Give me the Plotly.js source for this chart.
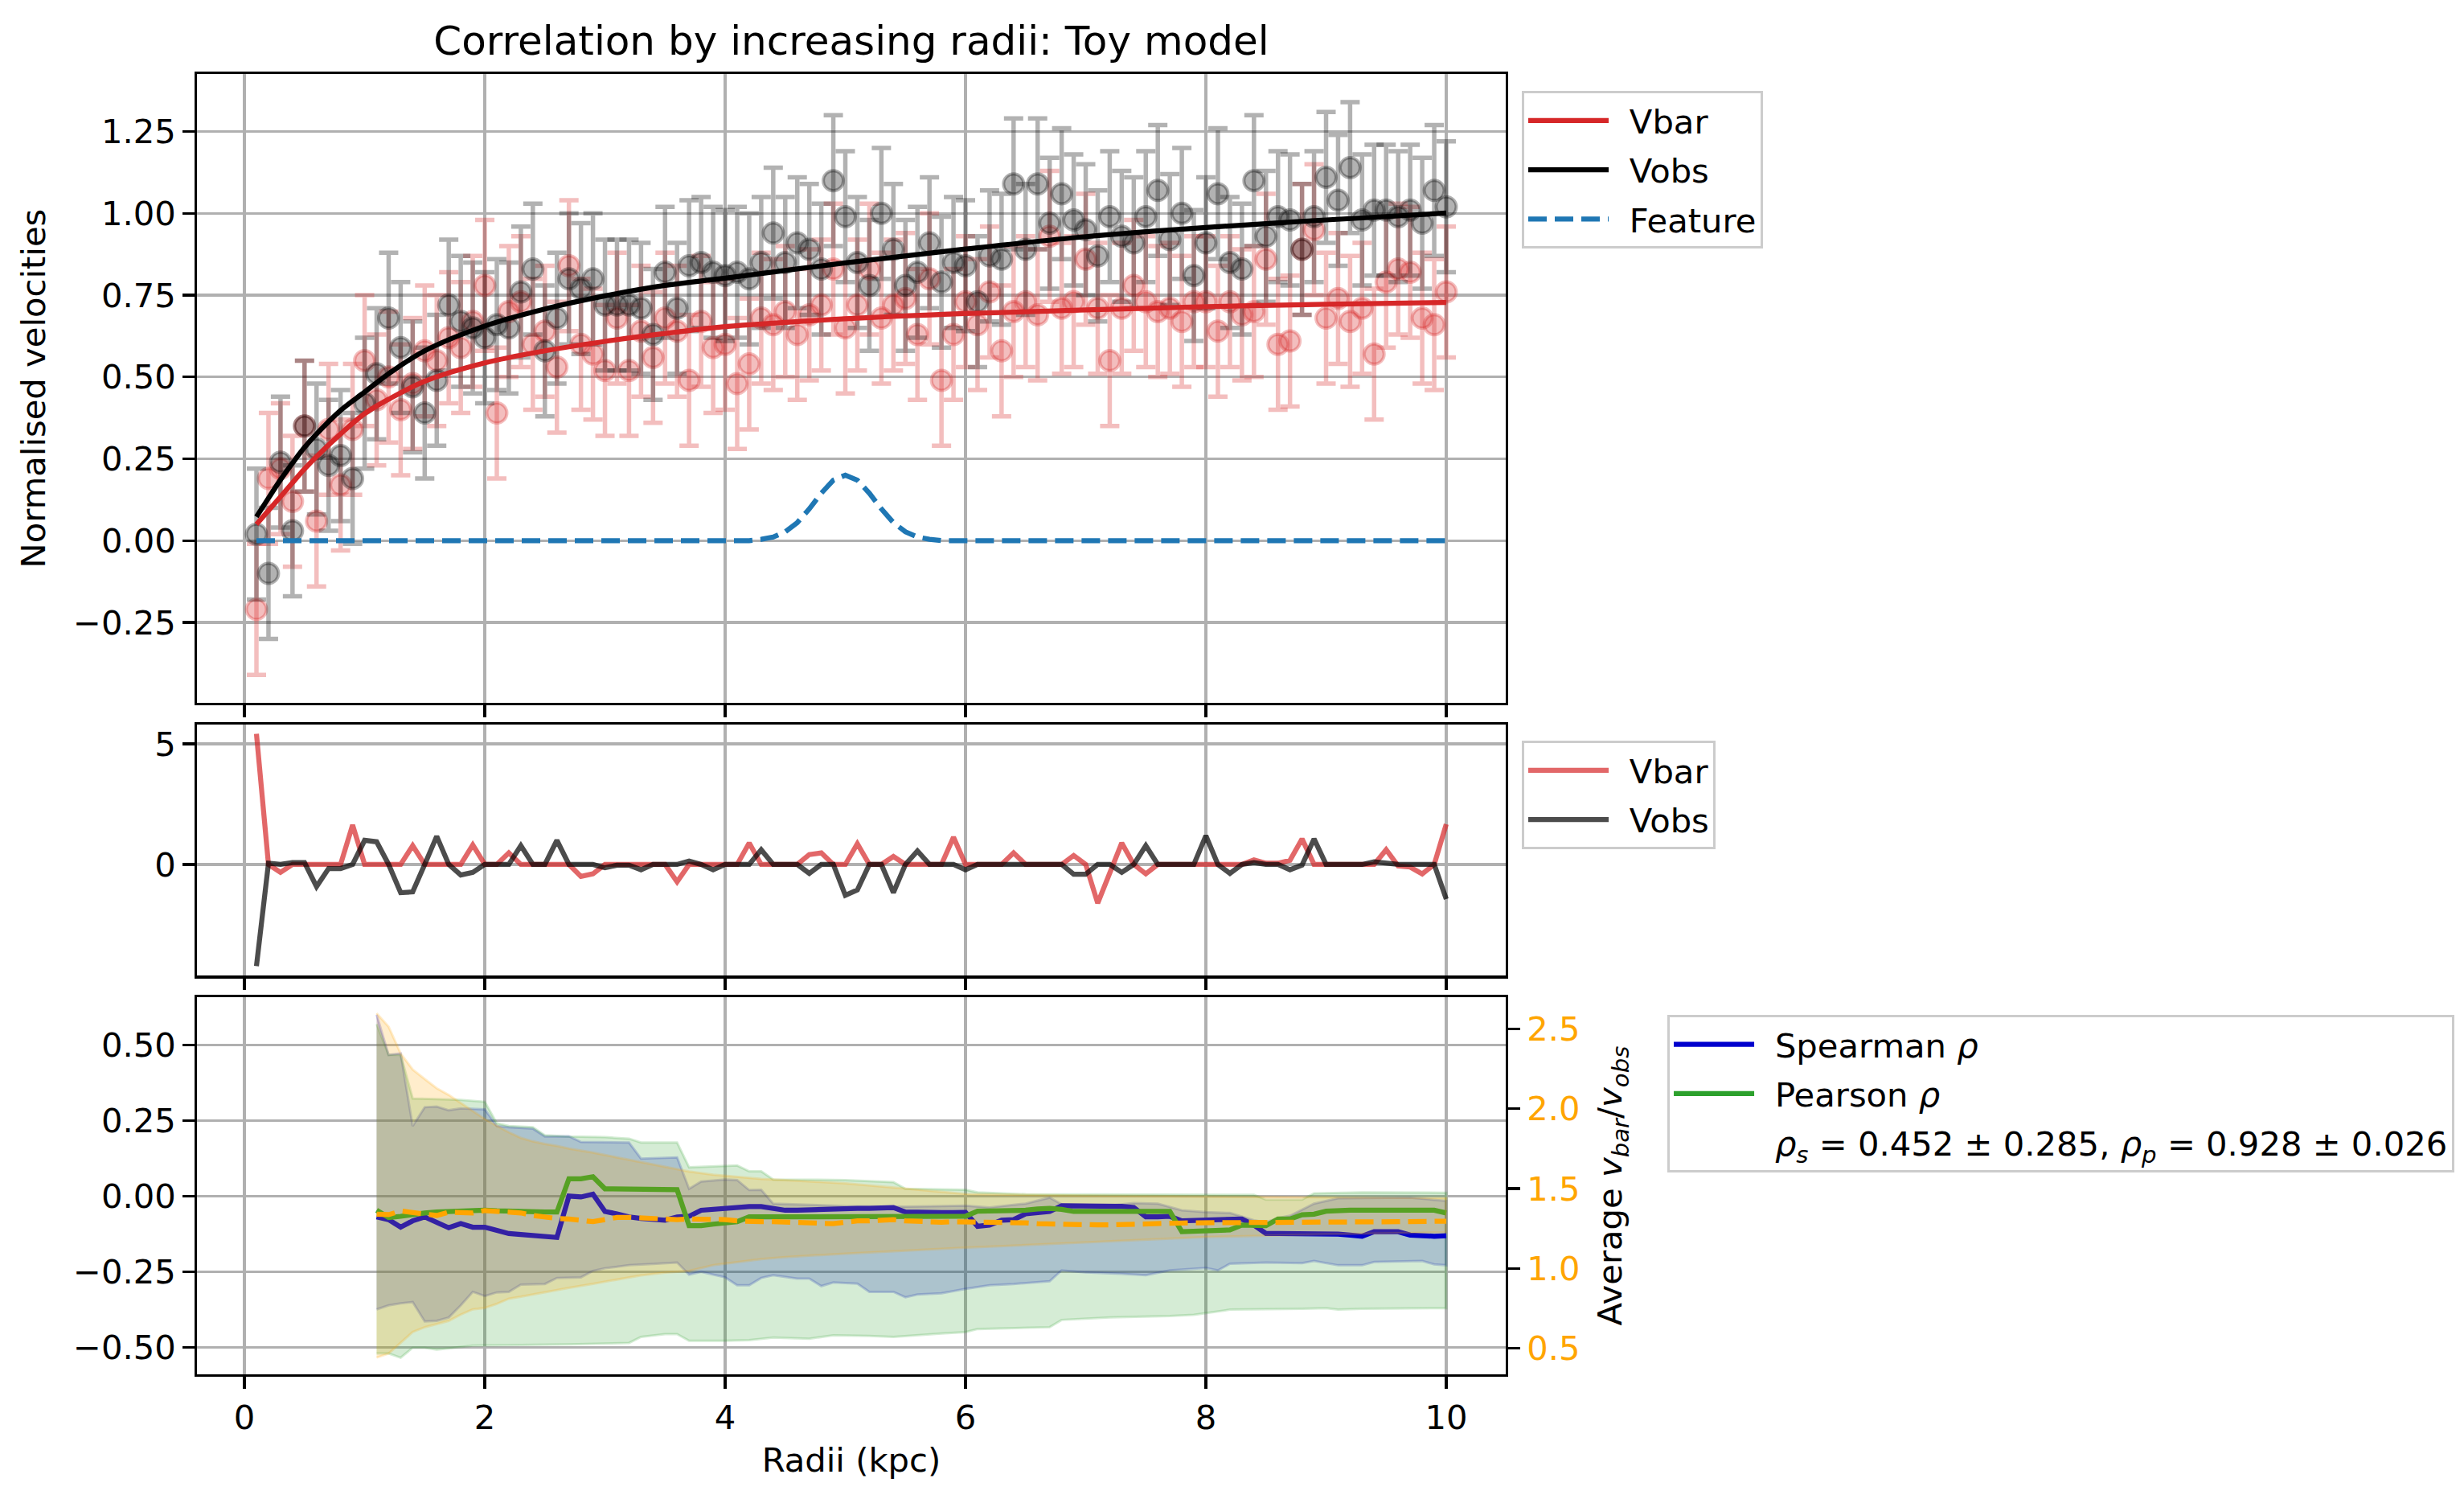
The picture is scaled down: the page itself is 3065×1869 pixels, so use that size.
<!DOCTYPE html>
<html>
<head>
<meta charset="utf-8">
<script src="https://cdn.plot.ly/plotly-3.0.1.min.js"></script>
<style>html, body {margin: 0; padding: 0; background: #fff;}</style>
</head>
<body>
<div id="chart" style="width:3065px;height:1869px"></div>
<script>
// ---- data ----
const radii = [
    0.1, 0.2, 0.3, 0.4, 0.5, 0.6, 0.7, 0.8, 0.9, 1.0,
    1.1, 1.2, 1.3, 1.4, 1.5, 1.6, 1.7, 1.8, 1.9, 2.0,
    2.1, 2.2, 2.3, 2.4, 2.5, 2.6, 2.7, 2.8, 2.9, 3.0,
    3.1, 3.2, 3.3, 3.4, 3.5, 3.6, 3.7, 3.8, 3.9, 4.0,
    4.1, 4.2, 4.3, 4.4, 4.5, 4.6, 4.7, 4.8, 4.9, 5.0,
    5.1, 5.2, 5.3, 5.4, 5.5, 5.6, 5.7, 5.8, 5.9, 6.0,
    6.1, 6.2, 6.3, 6.4, 6.5, 6.6, 6.7, 6.8, 6.9, 7.0,
    7.1, 7.2, 7.3, 7.4, 7.5, 7.6, 7.7, 7.8, 7.9, 8.0,
    8.1, 8.2, 8.3, 8.4, 8.5, 8.6, 8.7, 8.8, 8.9, 9.0,
    9.1, 9.2, 9.3, 9.4, 9.5, 9.6, 9.7, 9.8, 9.9, 10.0];

const vbar_points = [
    -0.21, 0.19, 0.22, 0.12, 0.35, 0.06, 0.34, 0.17, 0.34, 0.55,
    0.43, 0.50, 0.40, 0.48, 0.58, 0.55, 0.62, 0.59, 0.67, 0.78,
    0.39, 0.70, 0.73, 0.60, 0.64, 0.53, 0.84, 0.60, 0.57, 0.52,
    0.68, 0.52, 0.64, 0.56, 0.68, 0.64, 0.49, 0.67, 0.59, 0.60,
    0.48, 0.54, 0.68, 0.66, 0.70, 0.63, 0.69, 0.72, 0.83, 0.65,
    0.72, 0.83, 0.68, 0.72, 0.74, 0.63, 0.80, 0.49, 0.63, 0.73,
    0.66, 0.76, 0.58, 0.70, 0.73, 0.69, 0.93, 0.71, 0.73, 0.86,
    0.71, 0.55, 0.71, 0.78, 0.73, 0.70, 0.71, 0.67, 0.73, 0.73,
    0.64, 0.73, 0.69, 0.70, 0.86, 0.60, 0.61, 0.89, 0.95, 0.68,
    0.74, 0.67, 0.71, 0.57, 0.79, 0.83, 0.82, 0.68, 0.66, 0.76];

const vobs_points = [
    0.02, -0.10, 0.24, 0.03, 0.35, 0.28, 0.23, 0.26, 0.19, 0.42,
    0.51, 0.68, 0.59, 0.47, 0.39, 0.49, 0.72, 0.67, 0.65, 0.62,
    0.66, 0.65, 0.76, 0.83, 0.58, 0.68, 0.80, 0.77, 0.80, 0.72,
    0.72, 0.72, 0.71, 0.63, 0.82, 0.71, 0.84, 0.85, 0.82, 0.81,
    0.82, 0.80, 0.85, 0.94, 0.85, 0.91, 0.89, 0.83, 1.10, 0.99,
    0.85, 0.78, 1.00, 0.89, 0.78, 0.82, 0.91, 0.79, 0.85, 0.84,
    0.73, 0.87, 0.86, 1.09, 0.89, 1.09, 0.97, 1.06, 0.98, 0.95,
    0.87, 0.99, 0.93, 0.91, 0.99, 1.07, 0.92, 1.00, 0.81, 0.91,
    1.06, 0.85, 0.83, 1.10, 0.93, 0.99, 0.98, 0.89, 0.99, 1.11,
    1.04, 1.14, 0.98, 1.01, 1.01, 0.99, 1.01, 0.97, 1.07, 1.02];

const velocity_err = 0.2;

// model curves, sampled where they were read
const curve_radii = [0.1, 0.2, 0.3, 0.4, 0.5, 0.6, 0.8, 1.0, 1.2, 1.5, 2.0, 2.5, 3.0, 3.5, 4.0, 5.0, 6.0, 7.0, 8.0, 9.0, 10.0];
const vbar_curve = [0.05, 0.092, 0.134, 0.177, 0.219, 0.257, 0.326, 0.388, 0.432, 0.487, 0.543, 0.58, 0.609, 0.633, 0.654, 0.678, 0.694, 0.705, 0.715, 0.722, 0.728];
const vobs_curve = [0.073, 0.13, 0.186, 0.237, 0.285, 0.326, 0.398, 0.454, 0.51, 0.58, 0.656, 0.708, 0.748, 0.78, 0.802, 0.849, 0.891, 0.929, 0.957, 0.98, 1.001];

const feature_radii = [0.1, 4.2, 4.3, 4.4, 4.5, 4.6, 4.7, 4.8, 4.9, 5.0, 5.1, 5.2, 5.3, 5.4, 5.5, 5.6, 5.7, 5.8, 10.0];
const feature = [0, 0, 0.004, 0.011, 0.027, 0.055, 0.097, 0.145, 0.185, 0.2, 0.185, 0.145, 0.097, 0.055, 0.027, 0.011, 0.004, 0, 0];

// middle panel
const res_vbar = [
    5.42, 0, -0.33, 0, 0, 0, 0, 0, 1.64, 0,
    0, 0, 0, 0.78, 0, 0, 0, 0, 0.81, 0,
    0, 0.48, 0, 0, 0, 0, 0, -0.50, -0.39, 0,
    0, 0, 0, 0, 0, -0.72, 0, 0, 0, 0,
    0, 0.89, 0, 0, 0, 0, 0.41, 0.48, 0, 0,
    0.86, 0, 0, 0.33, 0, 0, 0, 0, 1.13, 0,
    0, 0, 0, 0.48, 0, 0, 0, 0, 0.37, 0,
    -1.61, -0.36, 0.89, 0, -0.39, 0, 0, 0, 0, 0,
    0, 0, 0, 0.19, 0.05, 0.05, 0.17, 1.06, 0, 0,
    0, 0, 0, 0, 0.61, -0.06, -0.11, -0.39, 0, 1.67];

const res_vobs = [
    -4.22, 0.05, 0, 0.08, 0.08, -0.92, -0.17, -0.17, 0, 1.00,
    0.94, 0, -1.17, -1.14, 0, 1.17, 0, -0.44, -0.33, 0,
    0, 0, 0.78, 0, 0, 1.00, 0, 0, 0, -0.14,
    -0.03, -0.03, -0.22, 0, 0, 0, 0.14, 0, -0.22, 0,
    0, 0, 0.61, 0, 0, 0, -0.37, 0, 0, -1.28,
    -1.06, 0, 0, -1.17, 0, 0.56, 0, 0, 0, -0.22,
    0, 0, 0, 0, 0, 0, 0, 0, -0.41, -0.41,
    0, 0, -0.33, 0, 0.78, 0, 0, 0, 0, 1.19,
    0, -0.37, 0, 0.08, 0, 0, -0.22, -0.03, 1.06, 0,
    0, 0, 0, 0.11, 0.03, 0, 0, 0, 0, -1.44];

// bottom panel, from r = 1.1 kpc onwards
const corr_radii = radii.slice(10);

const spearman = [
    -0.069, -0.078, -0.103, -0.082, -0.069, -0.087, -0.105, -0.091, -0.103, -0.103,
    -0.112, -0.124, -0.127, -0.129, -0.133, -0.137, 0.000, -0.003, 0.006, -0.051,
    -0.059, -0.069, -0.074, -0.076, -0.080, -0.069, -0.067, -0.047, -0.043, -0.041,
    -0.038, -0.035, -0.035, -0.041, -0.047, -0.047, -0.045, -0.044, -0.044, -0.043,
    -0.041, -0.041, -0.040, -0.038, -0.053, -0.055, -0.055, -0.055, -0.055, -0.054,
    -0.100, -0.096, -0.080, -0.078, -0.059, -0.053, -0.051, -0.032, -0.032, -0.032,
    -0.034, -0.034, -0.034, -0.038, -0.069, -0.069, -0.067, -0.082, -0.080, -0.078,
    -0.076, -0.076, -0.076, -0.096, -0.124, -0.124, -0.124, -0.124, -0.124, -0.124,
    -0.126, -0.129, -0.133, -0.118, -0.118, -0.118, -0.129, -0.133, -0.133, -0.131];

const pearson = [
    -0.047, -0.071, -0.067, -0.060, -0.056, -0.053, -0.051, -0.050, -0.048, -0.047,
    -0.049, -0.051, -0.052, -0.053, -0.053, -0.053, 0.057, 0.057, 0.064, 0.024,
    0.024, 0.020, 0.020, 0.020, 0.020, 0.021, -0.098, -0.098, -0.093, -0.087,
    -0.085, -0.069, -0.069, -0.069, -0.069, -0.069, -0.068, -0.067, -0.066, -0.065,
    -0.065, -0.065, -0.065, -0.066, -0.067, -0.067, -0.067, -0.067, -0.067, -0.067,
    -0.050, -0.050, -0.050, -0.047, -0.047, -0.043, -0.041, -0.044, -0.051, -0.051,
    -0.051, -0.051, -0.051, -0.051, -0.051, -0.051, -0.051, -0.118, -0.116, -0.113,
    -0.113, -0.112, -0.096, -0.098, -0.098, -0.076, -0.076, -0.062, -0.060, -0.050,
    -0.047, -0.047, -0.047, -0.047, -0.047, -0.047, -0.047, -0.047, -0.047, -0.056];

const avg_ratio = [
    1.339, 1.336, 1.359, 1.352, 1.339, 1.331, 1.352, 1.352, 1.347, 1.362,
    1.359, 1.356, 1.347, 1.331, 1.319, 1.312, 1.309, 1.297, 1.292, 1.305,
    1.319, 1.319, 1.314, 1.309, 1.305, 1.305, 1.309, 1.309, 1.309, 1.305,
    1.297, 1.292, 1.292, 1.292, 1.289, 1.284, 1.285, 1.280, 1.280, 1.289,
    1.297, 1.297, 1.300, 1.305, 1.297, 1.292, 1.289, 1.289, 1.292, 1.292,
    1.289, 1.285, 1.285, 1.285, 1.285, 1.280, 1.277, 1.275, 1.275, 1.272,
    1.272, 1.272, 1.275, 1.275, 1.279, 1.280, 1.280, 1.284, 1.285, 1.285,
    1.285, 1.286, 1.286, 1.287, 1.287, 1.288, 1.288, 1.289, 1.289, 1.289,
    1.290, 1.290, 1.290, 1.292, 1.292, 1.292, 1.293, 1.293, 1.294, 1.295];

// uncertainty bands (edges read at their corners)
const sp_hi_r = [1.1, 1.2, 1.3, 1.4, 1.5, 1.6, 1.7, 1.8, 2.0, 2.1, 2.2, 2.4, 2.5, 2.7, 2.8, 3.2, 3.3, 3.6, 3.7, 3.8, 4.0, 4.1, 4.2, 4.3, 4.4, 4.7, 5.0, 5.5, 6.0, 6.2, 6.5, 6.7, 6.8, 7.2, 7.4, 7.6, 7.8, 8.0, 8.2, 8.4, 8.5, 8.6, 8.7, 8.9, 9.1, 9.7, 10.0];
const sp_hi = [0.600, 0.467, 0.472, 0.232, 0.294, 0.296, 0.284, 0.290, 0.287, 0.232, 0.228, 0.223, 0.197, 0.198, 0.179, 0.177, 0.124, 0.128, 0.024, 0.048, 0.055, 0.053, 0.020, 0.021, -0.025, -0.029, -0.033, -0.035, -0.032, -0.038, -0.025, -0.005, -0.027, -0.032, -0.023, -0.025, -0.047, -0.053, -0.056, -0.080, -0.087, -0.073, -0.065, -0.025, -0.007, -0.005, -0.016];
const sp_lo_r = [1.1, 1.2, 1.3, 1.4, 1.5, 1.6, 1.7, 1.8, 1.9, 2.0, 2.1, 2.2, 2.3, 2.5, 2.6, 2.8, 2.9, 3.0, 3.2, 3.4, 3.6, 3.7, 3.8, 3.9, 4.0, 4.1, 4.2, 4.3, 4.4, 4.6, 4.7, 4.8, 4.9, 5.1, 5.2, 5.4, 5.5, 5.6, 5.8, 6.0, 6.2, 6.4, 6.7, 6.8, 7.0, 7.3, 7.5, 7.7, 8.0, 8.1, 8.2, 8.5, 8.8, 8.9, 9.1, 9.3, 9.4, 9.8, 9.9, 10.0];
const sp_lo = [-0.375, -0.362, -0.355, -0.351, -0.415, -0.413, -0.402, -0.362, -0.317, -0.331, -0.319, -0.317, -0.293, -0.291, -0.271, -0.269, -0.248, -0.239, -0.229, -0.225, -0.220, -0.260, -0.251, -0.260, -0.269, -0.295, -0.295, -0.271, -0.262, -0.273, -0.273, -0.298, -0.286, -0.290, -0.317, -0.317, -0.335, -0.326, -0.322, -0.307, -0.295, -0.291, -0.282, -0.246, -0.253, -0.257, -0.262, -0.246, -0.238, -0.246, -0.224, -0.220, -0.222, -0.215, -0.229, -0.229, -0.218, -0.215, -0.226, -0.229];

const pe_hi_r = [1.1, 1.2, 1.3, 1.4, 1.6, 1.8, 2.0, 2.1, 2.2, 2.4, 2.5, 2.7, 3.0, 3.2, 3.3, 3.6, 3.7, 3.8, 4.1, 4.2, 4.3, 4.4, 5.0, 5.4, 5.5, 6.0, 6.1, 6.5, 7.8, 8.4, 8.5, 8.8, 8.9, 9.3, 10.0];
const pe_hi = [0.569, 0.467, 0.467, 0.323, 0.321, 0.318, 0.312, 0.241, 0.232, 0.228, 0.201, 0.197, 0.195, 0.190, 0.177, 0.177, 0.095, 0.097, 0.101, 0.082, 0.082, 0.055, 0.053, 0.046, 0.024, 0.021, 0.012, 0.006, 0.004, 0.004, -0.012, -0.012, 0.009, 0.012, 0.011];
const pe_lo_r = [1.1, 1.2, 1.3, 1.4, 1.5, 1.6, 1.7, 1.9, 2.3, 2.7, 3.2, 3.3, 3.5, 3.6, 3.7, 4.0, 4.2, 4.4, 4.7, 4.9, 5.2, 5.4, 5.8, 6.0, 6.1, 6.7, 6.8, 7.2, 7.7, 7.9, 8.0, 8.2, 8.8, 9.0, 9.1, 9.3, 10.0];
const pe_lo = [-0.521, -0.521, -0.535, -0.502, -0.502, -0.508, -0.504, -0.495, -0.493, -0.491, -0.486, -0.466, -0.457, -0.457, -0.479, -0.479, -0.477, -0.468, -0.472, -0.461, -0.463, -0.466, -0.455, -0.450, -0.440, -0.434, -0.410, -0.402, -0.397, -0.393, -0.387, -0.376, -0.373, -0.371, -0.376, -0.373, -0.371];

const avg_hi_r = [1.1, 1.2, 1.3, 1.4, 1.5, 1.6, 1.7, 1.8, 1.9, 2.0, 2.1, 2.2, 2.3, 2.4, 2.5, 2.6, 2.7, 2.9, 3.1, 3.3, 3.5, 3.7, 3.9, 4.1, 4.3, 4.6, 5.0, 5.5, 6.0, 7.0, 8.0, 9.0, 10.0];
const avg_hi = [2.597, 2.513, 2.346, 2.245, 2.186, 2.128, 2.086, 2.035, 1.985, 1.935, 1.893, 1.852, 1.817, 1.795, 1.779, 1.767, 1.750, 1.725, 1.695, 1.666, 1.638, 1.607, 1.587, 1.574, 1.560, 1.549, 1.532, 1.500, 1.465, 1.455, 1.450, 1.445, 1.440];
const avg_lo_r = [1.1, 1.2, 1.3, 1.4, 1.5, 1.6, 1.7, 1.8, 1.9, 2.0, 2.1, 2.2, 2.3, 2.4, 2.5, 2.7, 2.9, 3.1, 3.3, 3.5, 3.7, 3.9, 4.1, 4.3, 4.5, 4.7, 5.0, 6.0, 7.0, 8.0, 9.0, 10.0];
const avg_lo = [0.441, 0.466, 0.534, 0.601, 0.631, 0.651, 0.671, 0.710, 0.743, 0.752, 0.777, 0.810, 0.822, 0.836, 0.852, 0.878, 0.903, 0.928, 0.956, 0.973, 0.983, 1.020, 1.040, 1.057, 1.070, 1.079, 1.092, 1.129, 1.163, 1.196, 1.213, 1.225];

const legend_rho_text = '<i>ρ<sub>s</sub></i> = 0.452 ± 0.285, <i>ρ<sub>p</sub></i> = 0.928 ± 0.026';

// ---- styling ----
const FONT = 'DejaVu Sans, Verdana, sans-serif';
const FS = 41.7;
const LW = 6.25;
const RED = '#d62728';
const GAP = '\u2002';  // a little room between legend line and label

function band(x_hi, y_hi, x_lo, y_lo, color, yaxis) {
    // closed polygon: upper edge left to right, lower edge back
    return {
        x: x_hi.concat(x_lo.slice().reverse()),
        y: y_hi.concat(y_lo.slice().reverse()),
        xaxis: 'x3', yaxis: yaxis,
        mode: 'lines', fill: 'toself',
        fillcolor: color,
        line: {color: color, width: 3},
        showlegend: false, hoverinfo: 'skip',
    };
}

function point_trace(y, rgb) {
    let c = `rgba(${rgb},0.3)`;
    return {
        x: radii, y: y, xaxis: 'x', yaxis: 'y',
        mode: 'markers', type: 'scatter',
        marker: {size: 25, color: c, line: {color: c, width: 4}},
        error_y: {type: 'constant', value: velocity_err, color: c, thickness: 5.5, width: 12},
        showlegend: false,
    };
}

let traces = [
    point_trace(vbar_points, '214,39,40'),
    point_trace(vobs_points, '0,0,0'),
    {x: curve_radii, y: vbar_curve, xaxis: 'x', yaxis: 'y', mode: 'lines', name: GAP + 'Vbar',
     line: {color: RED, width: LW, shape: 'spline'}, legend: 'legend', legendgroup: 'a1'},
    {x: curve_radii, y: vobs_curve, xaxis: 'x', yaxis: 'y', mode: 'lines', name: GAP + 'Vobs',
     line: {color: 'black', width: LW, shape: 'spline'}, legend: 'legend', legendgroup: 'a2'},
    {x: feature_radii, y: feature, xaxis: 'x', yaxis: 'y', mode: 'lines', name: GAP + 'Feature',
     line: {color: '#1f77b4', width: LW, dash: '23px,10px'}, legend: 'legend', legendgroup: 'a3'},

    {x: radii, y: res_vbar, xaxis: 'x2', yaxis: 'y2', mode: 'lines', name: GAP + 'Vbar',
     line: {color: 'rgba(214,39,40,0.7)', width: LW}, legend: 'legend2', legendgroup: 'b1'},
    {x: radii, y: res_vobs, xaxis: 'x2', yaxis: 'y2', mode: 'lines', name: GAP + 'Vobs',
     line: {color: 'rgba(0,0,0,0.7)', width: LW}, legend: 'legend2', legendgroup: 'b2'},

    band(sp_hi_r, sp_hi, sp_lo_r, sp_lo, 'rgba(0,0,205,0.2)', 'y3'),
    band(pe_hi_r, pe_hi, pe_lo_r, pe_lo, 'rgba(44,160,44,0.2)', 'y3'),
    {x: corr_radii, y: spearman, xaxis: 'x3', yaxis: 'y3', mode: 'lines', name: GAP + 'Spearman <i>ρ</i>',
     line: {color: '#0000cd', width: LW}, legend: 'legend3', legendgroup: 'c1'},
    {x: corr_radii, y: pearson, xaxis: 'x3', yaxis: 'y3', mode: 'lines', name: GAP + 'Pearson <i>ρ</i>',
     line: {color: '#2ca02c', width: LW}, legend: 'legend3', legendgroup: 'c2'},
    {x: [null], y: [null], xaxis: 'x3', yaxis: 'y3', mode: 'lines', name: GAP + legend_rho_text,
     line: {color: 'rgba(0,0,0,0)', width: 0}, legend: 'legend3', legendgroup: 'c3'},

    band(avg_hi_r, avg_hi, avg_lo_r, avg_lo, 'rgba(255,165,0,0.2)', 'y4'),
    {x: corr_radii, y: avg_ratio, xaxis: 'x3', yaxis: 'y4', mode: 'lines',
     line: {color: '#ffa500', width: LW, dash: '23px,10px'}, showlegend: false},
];

const axis_common = {
    showline: true, mirror: true, linecolor: 'black', linewidth: 3.3,
    ticks: 'outside', ticklen: 14.6, tickwidth: 3.3, tickcolor: 'black',
    showgrid: true, gridcolor: '#b0b0b0', gridwidth: 3.3, zeroline: false,
    tickfont: {family: FONT, size: FS, color: 'black'},
};

const x_range = [-0.395, 10.495];

function x_axis(anchor, labels) {
    return {...axis_common, anchor: anchor, range: x_range, domain: [0, 1],
            tick0: 0, dtick: 2, showticklabels: labels};
}

function legend_box(x, y) {
    return {
        x: x, y: y, xanchor: 'left', yanchor: 'top',
        bgcolor: 'white', bordercolor: '#cccccc', borderwidth: 3,
        font: {family: FONT, size: FS, color: 'black'},
        tracegroupgap: 4, itemwidth: 100,
    };
}

// plot area = 245..1873 px wide, 91.7..1709 px tall
let layout = {
    width: 3065, height: 1869,
    margin: {l: 245, r: 1192, t: 91.7, b: 160},
    paper_bgcolor: 'white', plot_bgcolor: 'white',
    font: {family: FONT, size: FS, color: 'black'},
    title: {text: 'Correlation by increasing radii: Toy model',
            font: {family: FONT, size: 50, color: 'black'},
            x: 0.5, xref: 'paper', xanchor: 'center',
            y: 1 - 50 / 1869, yref: 'container', yanchor: 'middle'},
    xaxis: x_axis('y', false),
    xaxis2: x_axis('y2', false),
    xaxis3: {...x_axis('y3', true),
             title: {text: 'Radii (kpc)', font: {family: FONT, size: FS}, standoff: 16}},
    yaxis: {...axis_common, anchor: 'x', domain: [0.5163, 1], range: [-0.496, 1.426],
            tick0: 0, dtick: 0.25, tickformat: '.2f',
            title: {text: 'Normalised velocities', font: {family: FONT, size: FS}, standoff: 22}},
    yaxis2: {...axis_common, anchor: 'x2', domain: [0.3065, 0.4996], range: [-4.62, 5.80],
             tickvals: [0, 5]},
    yaxis3: {...axis_common, anchor: 'x3', domain: [0, 0.2900], range: [-0.590, 0.658],
             tick0: 0, dtick: 0.25, tickformat: '.2f'},
    yaxis4: {...axis_common, anchor: 'x3', overlaying: 'y3', side: 'right', mirror: false,
             showgrid: false, range: [0.336, 2.698], tick0: 0.5, dtick: 0.5, tickformat: '.1f',
             tickfont: {family: FONT, size: FS, color: '#ffa500'},
             title: {text: 'Average <i>v<sub>bar</sub></i>/<i>v<sub>obs</sub></i>',
                     font: {family: FONT, size: FS, color: 'black'}, standoff: 24}},
    legend: legend_box(1.0123, 0.9868),
    legend2: legend_box(1.0123, 0.4872),
    legend3: legend_box(1.1235, 0.2764),
    hovermode: false,
};

Plotly.newPlot('chart', traces, layout, {staticPlot: true, displayModeBar: false});
</script>
</body>
</html>
